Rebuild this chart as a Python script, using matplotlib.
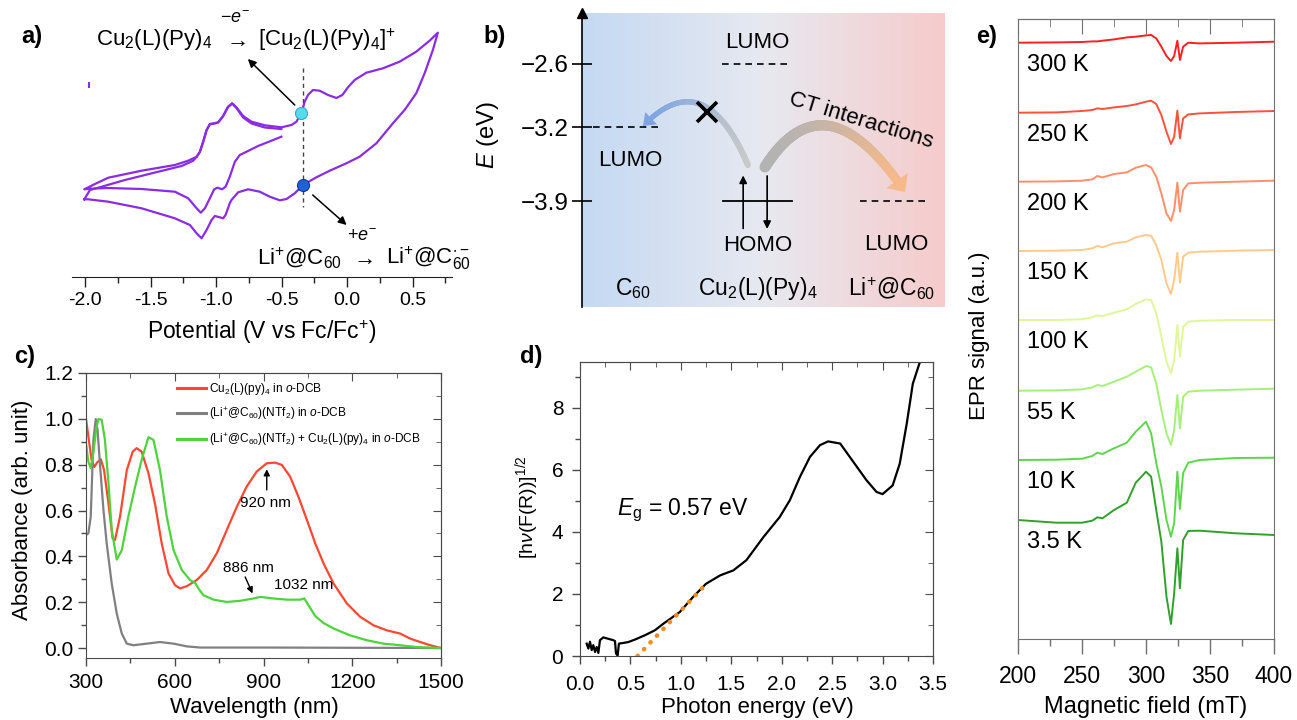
import numpy as np
import matplotlib
matplotlib.use("Agg")
import matplotlib.pyplot as plt
from matplotlib.collections import LineCollection
from matplotlib.patches import Polygon
from matplotlib.colors import LinearSegmentedColormap, to_rgb
from matplotlib.ticker import MultipleLocator, NullFormatter

plt.rcParams['font.family'] = ['Liberation Sans', 'DejaVu Sans']
plt.rcParams['mathtext.fontset'] = 'custom'
plt.rcParams['mathtext.rm'] = 'Liberation Sans'
plt.rcParams['mathtext.it'] = 'Liberation Sans:italic'
plt.rcParams['mathtext.bf'] = 'Liberation Sans:bold'
plt.rcParams['axes.unicode_minus'] = False

# ---------------- data ----------------
# a) cyclic voltammetry (potential V vs Fc/Fc+, current a.u.)
cv1_v = [-2.006, -1.963, -1.873, -1.696, -1.442, -1.264, -1.175, -1.149, -1.124, -1.099, -1.073, -1.048, -1.015,
         -0.985, -0.947, -0.909, -0.878, -0.845, -0.794, -0.730, -0.629, -0.502, -0.425, -0.387, -0.349, -0.324,
         -0.299, -0.261, -0.210, -0.146, -0.082, -0.037, 0.006, 0.057, 0.146, 0.273, 0.400, 0.527, 0.629, 0.692,
         0.654, 0.591, 0.527, 0.438, 0.349, 0.223, 0.095, -0.006, -0.133, -0.235, -0.337, -0.400, -0.463, -0.514,
         -0.591, -0.667, -0.756, -0.832, -0.883, -0.896, -0.928, -0.947, -0.972, -1.010, -1.035, -1.073, -1.111,
         -1.149, -1.200, -1.315, -1.569, -1.823, -1.976, -2.006]
cv1_i = [0.07, 1.0, 1.33, 2.0, 2.83, 3.4, 3.93, 4.33, 4.83, 5.83, 7.0, 7.6, 7.67, 7.77, 8.4, 9.33, 9.67, 9.27, 8.4,
         7.83, 7.47, 7.27, 7.5, 7.83, 8.73, 9.83, 10.5, 11.0, 10.93, 10.5, 10.2, 10.5, 11.27, 12.0, 12.73, 13.17,
         13.83, 14.83, 15.93, 16.73, 15.0, 12.67, 10.67, 9.0, 7.67, 5.67, 4.33, 3.67, 2.93, 2.27, 1.5, 0.67, 0.1,
         -0.03, 0.33, 0.83, 1.07, 0.77, 0.0, -0.33, -1.5, -1.83, -1.73, -1.6, -2.0, -3.0, -3.83, -3.33, -2.5, -1.83,
         -0.83, -0.17, 0.07, 0.07]
cv2_v = [-0.502, -0.578, -0.680, -0.768, -0.819, -0.857, -0.896, -0.928, -0.954, -0.989, -1.015, -1.048, -1.086,
         -1.117, -1.149, -1.213, -1.315, -1.569, -1.823, -1.963, -2.006, -1.925, -1.823, -1.569, -1.315, -1.213,
         -1.175, -1.149, -1.124, -1.099, -1.073, -1.048, -1.015, -0.985, -0.947, -0.909, -0.878, -0.845, -0.794,
         -0.730, -0.629, -0.502]
cv2_i = [6.33, 5.93, 5.4, 4.83, 4.5, 3.83, 2.33, 1.33, 1.07, 1.23, 1.07, 0.17, -0.83, -1.27, -0.83, 0.17, 0.83, 1.1,
         1.2, 1.13, 1.07, 1.6, 2.23, 2.93, 3.5, 3.93, 4.17, 4.3, 4.8, 5.8, 6.97, 7.57, 7.64, 7.74, 8.37, 9.3, 9.64,
         9.2, 8.25, 7.65, 7.25, 7.1]
cv_mark_v = -0.34          # dashed line / points of interest
cv_dot_ox = (-0.349, 8.73)
cv_dot_red = (-0.337, 1.5)

# b) energy levels (eV)
lumo_cu = -2.6
lumo_c60 = -3.2
homo_cu = -3.9
lumo_li = -3.9
b_ticks = [-2.6, -3.2, -3.9]

# c) UV-vis-NIR
red_wl = [300, 308, 319, 328, 338, 350, 361, 376, 390, 398, 415, 438, 458, 471, 488, 511, 533, 556, 579, 601, 618,
          641, 674, 708, 742, 776, 810, 843, 877, 911, 939, 962, 990, 1018, 1047, 1075, 1103, 1137, 1182, 1227,
          1272, 1317, 1362, 1396, 1430, 1464, 1500]
red_a = [1.0, 0.923, 0.82, 0.79, 0.81, 0.824, 0.777, 0.631, 0.478, 0.471, 0.573, 0.777, 0.857, 0.872, 0.857, 0.763,
         0.631, 0.456, 0.325, 0.274, 0.26, 0.27, 0.296, 0.34, 0.413, 0.515, 0.617, 0.704, 0.77, 0.806, 0.809, 0.799,
         0.748, 0.66, 0.558, 0.456, 0.369, 0.281, 0.194, 0.136, 0.099, 0.077, 0.063, 0.041, 0.026, 0.012, 0.0]
grey_wl = [300, 308, 316, 325, 333, 339, 347, 359, 370, 387, 404, 421, 438, 460, 505, 550, 596, 641, 686, 911, 1500]
grey_a = [0.493, 0.5, 0.573, 0.908, 0.999, 0.952, 0.806, 0.602, 0.456, 0.281, 0.15, 0.063, 0.019, 0.012, 0.019,
          0.026, 0.019, 0.007, 0.002, 0.002, 0.0]
green_wl = [300, 308, 316, 325, 334, 342, 353, 364, 376, 387, 404, 421, 443, 466, 488, 511, 528, 550, 573, 596, 624,
            652, 669, 680, 697, 731, 776, 821, 866, 889, 934, 979, 1024, 1038, 1052, 1075, 1103, 1137, 1193, 1249,
            1306, 1362, 1418, 1500]
green_a = [0.894, 0.814, 0.785, 0.85, 0.952, 0.999, 0.996, 0.908, 0.719, 0.515, 0.386, 0.427, 0.573, 0.704, 0.821,
           0.92, 0.908, 0.777, 0.573, 0.427, 0.34, 0.296, 0.284, 0.26, 0.23, 0.211, 0.201, 0.206, 0.216, 0.223,
           0.216, 0.211, 0.211, 0.216, 0.187, 0.139, 0.109, 0.085, 0.055, 0.034, 0.019, 0.012, 0.004, 0.0]
c_labels = [r"Cu$_2$(L)(py)$_4$ in $o$-DCB",
            r"(Li$^{+}$@C$_{60}$)(NTf$_2$) in $o$-DCB",
            r"(Li$^{+}$@C$_{60}$)(NTf$_2$) + Cu$_2$(L)(py)$_4$ in $o$-DCB"]

# d) Tauc plot
d_e = [0.066, 0.083, 0.099, 0.116, 0.132, 0.149, 0.165, 0.182, 0.198, 0.231, 0.264, 0.297, 0.33, 0.347, 0.357,
       0.373, 0.386, 0.429, 0.479, 0.545, 0.644, 0.743, 0.826, 0.99, 1.12, 1.25, 1.39, 1.52, 1.65, 1.82, 1.98,
       2.08, 2.18, 2.28, 2.38, 2.46, 2.58, 2.71, 2.84, 2.94, 3.0, 3.1, 3.17, 3.24, 3.3, 3.37]
d_y = [0.4, 0.24, 0.46, 0.19, 0.35, 0.13, 0.29, 0.1, 0.51, 0.6, 0.57, 0.54, 0.51, 0.48, 0.08, 0.02, 0.4, 0.42, 0.45,
       0.53, 0.67, 0.83, 1.04, 1.42, 1.9, 2.33, 2.6, 2.76, 3.09, 3.84, 4.48, 5.02, 5.77, 6.42, 6.8, 6.92, 6.85,
       6.26, 5.67, 5.29, 5.22, 5.5, 6.2, 7.5, 8.78, 9.48]
fit_e = [0.57, 1.26]
fit_y = [0.0, 2.35]

# e) EPR spectra (baseline-subtracted, a.u.) and their vertical offsets
epr_field = [200, 230, 250, 258, 262, 266, 275, 285, 292, 300, 304, 308, 312, 316, 319.5, 322, 324.5, 326.5, 329,
             333, 342, 370, 400]
epr_300 = [0, 0.03, 0.07, 0.13, 0.13, 0.2, 0.33, 0.53, 0.6, 0.73, 0.77, 0.43, -0.4, -1.33, -1.83, -1.33, 0.2,
           -1.73, -0.4, 0, -0.07, 0, 0.1]
epr_250 = [0, 0.03, 0.17, 0.27, 0.43, 0.37, 0.53, 0.67, 0.83, 1.1, 1.2, 0.87, -0.23, -1.9, -3.13, -2.4, 0.2, -2.57,
           -0.57, -0.17, -0.07, 0.07, 0.17]
epr_200 = [0, 0.03, 0.1, 0.23, 0.57, 0.43, 0.77, 0.93, 1.4, 1.67, 1.43, 0.5, -1.17, -3.17, -3.93, -2.83, -0.1, -3.0,
           -0.83, -0.17, -0.1, 0, 0.1]
epr_150 = [0, 0.03, 0.1, 0.27, 0.5, 0.37, 0.77, 0.93, 1.37, 1.6, 1.53, 0.6, -0.9, -3.23, -4.3, -2.9, -0.17, -3.17,
           -0.57, -0.17, -0.07, 0.03, 0.1]
epr_100 = [0, 0, 0.07, 0.27, 0.47, 0.4, 0.73, 1.07, 1.6, 2.07, 2.0, 0.67, -1.67, -4.17, -5.33, -4.0, -0.5, -3.67,
           -0.67, -0.17, -0.07, 0, 0]
epr_55 = [0, 0.03, 0.13, 0.33, 0.57, 0.47, 0.9, 1.4, 1.9, 2.47, 2.33, 0.73, -1.93, -4.27, -5.43, -3.93, -0.43, -3.77,
          -0.6, -0.1, 0, 0.1, 0.2]
epr_10 = [0, 0.03, 0.13, 0.4, 0.73, 0.6, 1.17, 1.73, 2.83, 3.83, 2.67, -0.3, -2.67, -6.0, -7.67, -6.3, -1.17, -4.9,
          -1.3, -0.27, 0, 0.2, 0.23]
epr_3p5 = [0, -0.27, -0.27, -0.07, 0.27, 0.17, 1.0, 1.73, 3.73, 4.83, 4.33, 1.0, -2.17, -7.67, -10.4, -7.33, -2.83,
           -6.83, -2.0, -1.1, -1.07, -1.33, -1.5]
epr_offsets = [59.63, 52.63, 45.73, 38.8, 31.9, 24.83, 17.9, 11.9]
epr_temps = ['300 K', '250 K', '200 K', '150 K', '100 K', '55 K', '10 K', '3.5 K']
epr_colors = ['#ff1f1f', '#ff503c', '#ff8f6a', '#ffca8c', '#def79a', '#a6ef7c', '#5ed64c', '#2fa12b']

# ---------------- layout helpers ----------------
W, H = 1297, 720


def rect(x0, y0, x1, y1):
    return [x0 / W, 1 - y1 / H, (x1 - x0) / W, (y1 - y0) / H]


def fxy(x, y):
    return x / W, 1 - y / H


def grad_arrow(ax, p0, p1, p2, c0, c1, w0, w1, head_w, head_l, sx, sy, gamma=1.0, n=120):
    P = np.array([p0, p1, p2], float) * [sx, sy]
    t = np.linspace(0, 1, n)[:, None]
    pts = (1 - t) ** 2 * P[0] + 2 * (1 - t) * t * P[1] + t ** 2 * P[2]
    seg = np.hypot(*np.diff(pts, axis=0).T)
    rem = np.concatenate([np.cumsum(seg[::-1])[::-1], [0]])
    k = int(np.argmax(rem <= head_l))
    body = pts[:k + 1]
    tip, base = pts[-1], pts[k]
    d = (tip - base) / np.hypot(*(tip - base))
    nrm = np.array([-d[1], d[0]])
    head = np.array([base + nrm * head_w / 2, tip, base - nrm * head_w / 2])
    f = np.linspace(0, 1, len(body) - 1)[:, None] ** gamma
    cols = np.array(to_rgb(c0)) * (1 - f) + np.array(to_rgb(c1)) * f
    segs = np.stack([body[:-1], body[1:]], axis=1) / [sx, sy]
    widths = (w0 + (w1 - w0) * np.linspace(0, 1, len(body) - 1)) * 0.72
    lc = LineCollection(segs, colors=cols, linewidths=widths, capstyle='round', zorder=3)
    ax.add_collection(lc)
    ax.add_patch(Polygon(head / [sx, sy], closed=True, color=c1, lw=0, zorder=3))


fig = plt.figure(figsize=(12.97, 7.2), dpi=100)

# ---------------- a) ----------------
purple = '#8a2be6'
ax = fig.add_axes(rect(72, 20, 452, 277))
ax.plot(cv1_v, cv1_i, color=purple, lw=1.6, solid_joinstyle='round')
ax.plot(cv2_v, cv2_i, color=purple, lw=1.6, solid_joinstyle='round')
ax.plot([-1.97], [11.5], marker='|', ms=4, color=purple, mew=1.5)
ax.plot([cv_mark_v, cv_mark_v], [13.2, -0.7], ls=(0, (3, 2.5)), color='#444444', lw=1.0)
ax.scatter(*cv_dot_ox, s=75, color='#55dcec', edgecolor='#2ab0c8', lw=0.8, zorder=5)
ax.scatter(*cv_dot_red, s=75, color='#1f62d6', edgecolor='#0b3c9a', lw=0.8, zorder=5)
ax.annotate('', xy=(-0.758, 14.1), xytext=(-0.40, 9.5),
            arrowprops=dict(arrowstyle='-|>', color='k', lw=1.1, mutation_scale=12, shrinkA=0, shrinkB=0))
ax.annotate('', xy=(-0.004, -2.5), xytext=(-0.263, 0.5),
            arrowprops=dict(arrowstyle='-|>', color='k', lw=1.1, mutation_scale=12, shrinkA=0, shrinkB=0))
ax.text(-1.917, 16.0, r"Cu$_2$(L)(Py)$_4$", fontsize=16, ha='left', va='center')
ax.text(-0.857, 15.9, r"$\rightarrow$", fontsize=16, ha='center', va='center')
ax.text(-0.857, 18.2, r"$-e^{-}$", fontsize=13, ha='center', va='center')
ax.text(-0.682, 16.0, r"[Cu$_2$(L)(Py)$_4$]$^{+}$", fontsize=16, ha='left', va='center')
ax.text(-0.690, -5.8, r"Li$^{+}$@C$_{60}$", fontsize=16, ha='left', va='center')
ax.text(0.11, -5.9, r"$\rightarrow$", fontsize=16, ha='center', va='center')
ax.text(0.11, -3.6, r"$+e^{-}$", fontsize=13, ha='center', va='center')
ax.text(0.30, -5.8, r"Li$^{+}$@C$_{60}^{\bullet-}$", fontsize=16, ha='left', va='center')
ax.set_xlim(-2.1, 0.8)
ax.set_ylim(-7.7, 18)
for s in ['top', 'left', 'right']:
    ax.spines[s].set_visible(False)
ax.spines['bottom'].set_color('#222222')
ax.set_yticks([])
a_ticks = [-2.0, -1.5, -1.0, -0.5, 0.0, 0.5]
ax.set_xticks(a_ticks, ['-2.0', '-1.5', '-1.0', '-0.5', '0.0', '0.5'])
ax.xaxis.set_minor_locator(MultipleLocator(0.25))
ax.tick_params(axis='x', which='major', direction='out', length=7, width=1, labelsize=14, pad=4, color='#222222')
ax.tick_params(axis='x', which='minor', direction='out', length=4, width=1, color='#222222')
ax.set_xlabel(r"Potential (V vs Fc/Fc$^{+}$)", fontsize=16.5)
ax.xaxis.set_label_coords(0.5, (277 - 332) / 257)
ax.xaxis.label.set_va('center')
fig.text(*fxy(32, 37), 'a)', fontsize=17, fontweight='bold', ha='center', va='center')

# ---------------- b) ----------------
Emax, Emin = -2.123, -4.896
axb = fig.add_axes(rect(582, 13, 945, 307))
bg = LinearSegmentedColormap.from_list('bg', ['#c4d9f3', '#e7e9f0', '#f6cbcb'])
axb.imshow(np.linspace(0, 1, 256)[None, :], cmap=bg, extent=(0, 10, Emin, Emax), aspect='auto', zorder=0)
axb.set_xlim(0, 10)
axb.set_ylim(Emin, Emax)
dash = dict(color='k', lw=1.2, ls=(0, (4, 3)))
axb.plot([0.30, 2.20], [lumo_c60, lumo_c60], **dash)
axb.plot([3.86, 5.67], [lumo_cu, lumo_cu], **dash)
axb.plot([7.66, 9.53], [lumo_li, lumo_li], **dash)
axb.plot([3.88, 5.79], [homo_cu, homo_cu], color='k', lw=1.3)
axb.annotate('', xy=(4.44, homo_cu + 0.245), xytext=(4.44, homo_cu - 0.255),
             arrowprops=dict(arrowstyle='-|>', color='k', lw=1.2, mutation_scale=11, shrinkA=0, shrinkB=0))
axb.annotate('', xy=(5.10, homo_cu - 0.26), xytext=(5.10, homo_cu + 0.24),
             arrowprops=dict(arrowstyle='-|>', color='k', lw=1.2, mutation_scale=11, shrinkA=0, shrinkB=0))
axb.text(4.82, lumo_cu + 0.2, 'LUMO', fontsize=16, ha='center', va='center')
axb.text(1.32, lumo_c60 - 0.31, 'LUMO', fontsize=16, ha='center', va='center')
axb.text(8.65, lumo_li - 0.41, 'LUMO', fontsize=16, ha='center', va='center')
axb.text(4.85, homo_cu - 0.42, 'HOMO', fontsize=16, ha='center', va='center')
axb.text(1.40, -4.72, r"C$_{60}$", fontsize=16.5, ha='center', va='center')
axb.text(4.85, -4.72, r"Cu$_2$(L)(Py)$_4$", fontsize=16.5, ha='center', va='center')
axb.text(8.54, -4.72, r"Li$^{+}$@C$_{60}$", fontsize=16.5, ha='center', va='center')
sx, sy = 36.3, 106.0
grad_arrow(axb, (4.57, -3.557), (3.37, -2.590), (1.68, -3.189), '#c9c9c9', '#7ea5e2', 6, 5, 17, 12, sx, sy,
           gamma=1.2)
grad_arrow(axb, (5.04, -3.576), (6.69, -2.684), (8.90, -3.812), '#b3b3b3', '#f6b98a', 11, 9, 26, 16, sx, sy,
           gamma=1.8)
axb.plot([3.44], [-3.057], marker='x', ms=15, mew=2.6, color='k', zorder=4)
axb.text(7.69, -3.134, 'CT interactions', fontsize=16, rotation=-17, ha='center', va='center', zorder=5)
for s in ['top', 'right', 'bottom']:
    axb.spines[s].set_visible(False)
axb.spines['left'].set_linewidth(1.2)
axb.plot(0, 1.0, marker='^', ms=7, color='k', transform=axb.transAxes, clip_on=False)
axb.set_xticks([])
axb.set_yticks(b_ticks, ['\u2212' + f"{abs(v):.1f}" for v in b_ticks])
axb.tick_params(axis='y', direction='inout', length=15, width=1.2, labelsize=17.5, pad=2)
axb.set_ylabel(r"$E$ (eV)", fontsize=17)
axb.yaxis.set_label_coords((488 - 582) / 363, 1 - (135 - 13) / 294)
axb.yaxis.label.set_va('center')
fig.text(*fxy(495, 37), 'b)', fontsize=17, fontweight='bold', ha='center', va='center')


def mirror(ax, xmaj, xmin, ymaj, ymin, color, lmaj, lmin):
    top = ax.secondary_xaxis('top')
    top.set_xticks(xmaj)
    top.set_xticks(xmin, minor=True)
    top.xaxis.set_major_formatter(NullFormatter())
    top.tick_params(which='major', direction='in', length=lmaj, color=color)
    top.tick_params(which='minor', direction='in', length=lmin, color=color)
    top.spines['top'].set_color(color)
    if ymaj is not None:
        right = ax.secondary_yaxis('right')
        right.set_yticks(ymaj)
        right.set_yticks(ymin, minor=True)
        right.yaxis.set_major_formatter(NullFormatter())
        right.tick_params(which='major', direction='in', length=lmaj, color=color)
        right.tick_params(which='minor', direction='in', length=lmin, color=color)
        right.spines['right'].set_color(color)


# ---------------- c) ----------------
sc = '#4a4a4a'
axc = fig.add_axes(rect(86, 373, 441, 658))
axc.plot(red_wl, red_a, color='#ff4630', lw=1.6, label=c_labels[0])
axc.plot(grey_wl, grey_a, color='#808080', lw=1.6, label=c_labels[1])
axc.plot(green_wl, green_a, color='#4cd43a', lw=1.6, label=c_labels[2])
axc.set_xlim(300, 1500)
axc.set_ylim(-0.0436, 1.2)
xmaj = [300, 600, 900, 1200, 1500]
xmin = [450, 750, 1050, 1350]
ymaj = [0.0, 0.2, 0.4, 0.6, 0.8, 1.0, 1.2]
ymin = [0.1, 0.3, 0.5, 0.7, 0.9, 1.1]
axc.set_xticks(xmaj)
axc.set_xticks(xmin, minor=True)
axc.set_yticks(ymaj, [f"{v:.1f}" for v in ymaj])
axc.set_yticks(ymin, minor=True)
axc.tick_params(which='major', direction='out', length=6, width=1, color=sc, labelsize=15)
axc.tick_params(which='minor', direction='out', length=3.5, width=1, color=sc)
axc.tick_params(axis='x', pad=5)
axc.tick_params(axis='y', pad=3)
for s in axc.spines.values():
    s.set_color(sc)
mirror(axc, xmaj, xmin, ymaj, ymin, sc, 6, 3.5)
axc.set_xlabel('Wavelength (nm)', fontsize=16)
axc.xaxis.set_label_coords((254 - 86) / 355, (658 - 707) / 285)
axc.xaxis.label.set_va('center')
axc.set_ylabel('Absorbance (arb. unit)', fontsize=16)
axc.yaxis.set_label_coords((23 - 86) / 355, 1 - (510 - 373) / 285)
axc.yaxis.label.set_va('center')
leg = axc.legend(loc='upper left', bbox_to_anchor=((177 - 86) / 355, 1 - (381 - 373) / 285), frameon=False,
                 fontsize=8.6, handlelength=2.4, handletextpad=0.3, labelspacing=0.72, borderaxespad=0,
                 borderpad=0)
for h in leg.get_lines():
    h.set_linewidth(2.2)
axc.annotate('', xy=(911, 0.78), xytext=(911, 0.69),
             arrowprops=dict(arrowstyle='-|>', color='k', lw=1.0, mutation_scale=9, shrinkA=0, shrinkB=0))
axc.text(905, 0.633, '920 nm', fontsize=11, ha='center', va='center')
axc.annotate('', xy=(863, 0.238), xytext=(838, 0.31),
             arrowprops=dict(arrowstyle='-|>', color='k', lw=1.0, mutation_scale=9, shrinkA=0, shrinkB=0))
axc.text(849, 0.349, '886 nm', fontsize=11, ha='center', va='center')
axc.text(1035, 0.277, '1032 nm', fontsize=11, ha='center', va='center')
fig.text(*fxy(25, 356), 'c)', fontsize=17, fontweight='bold', ha='center', va='center')

# ---------------- d) ----------------
axd = fig.add_axes(rect(580, 362, 933, 656))
axd.plot(d_e, d_y, color='k', lw=1.6)
axd.plot(fit_e, fit_y, color='#ff8a1c', lw=3.2, ls=(0, (0.1, 2.0)), dash_capstyle='round', zorder=3)
axd.set_xlim(0, 3.5)
axd.set_ylim(0, 9.48)
dxmaj = [0.0, 0.5, 1.0, 1.5, 2.0, 2.5, 3.0, 3.5]
dxmin = [0.25, 0.75, 1.25, 1.75, 2.25, 2.75, 3.25]
dymaj = [0, 2, 4, 6, 8]
dymin = [1, 3, 5, 7, 9]
axd.set_xticks(dxmaj, [f"{v:.1f}" for v in dxmaj])
axd.set_xticks(dxmin, minor=True)
axd.set_yticks(dymaj)
axd.set_yticks(dymin, minor=True)
axd.tick_params(which='major', direction='out', length=6, width=1, color=sc, labelsize=15)
axd.tick_params(which='minor', direction='out', length=3.5, width=1, color=sc)
axd.tick_params(axis='x', pad=8)
axd.tick_params(axis='y', pad=6)
for s in axd.spines.values():
    s.set_color(sc)
mirror(axd, dxmaj, dxmin, dymaj, dymin, sc, 6, 3.5)
axd.text(0.367, 4.71, r"$E_{\rm g}$ = 0.57 eV", fontsize=16.5, ha='left', va='center')
axd.set_xlabel('Photon energy (eV)', fontsize=16)
axd.xaxis.set_label_coords((757 - 580) / 353, (656 - 708) / 294)
axd.xaxis.label.set_va('center')
axd.set_ylabel(r"[h$\nu$(F(R))]$^{1/2}$", fontsize=14)
axd.yaxis.set_label_coords((527 - 580) / 353, 1 - (507 - 362) / 294)
axd.yaxis.label.set_va('center')
fig.text(*fxy(531, 357), 'd)', fontsize=17, fontweight='bold', ha='center', va='center')

# ---------------- e) ----------------
se = '#707070'
axe = fig.add_axes(rect(1018, 19, 1274, 639))
for rel, off, col, lab in zip([epr_300, epr_250, epr_200, epr_150, epr_100, epr_55, epr_10, epr_3p5],
                              epr_offsets, epr_colors, epr_temps):
    axe.plot(epr_field, np.array(rel) + off, color=col, lw=1.4)
    axe.text(207, off - 2.2, lab, fontsize=17, ha='left', va='center')
axe.set_xlim(200, 400)
axe.set_ylim(0, 62)
exmaj = [200, 250, 300, 350, 400]
exmin = [225, 275, 325, 375]
axe.set_xticks(exmaj)
axe.set_xticks(exmin, minor=True)
axe.set_yticks([])
axe.tick_params(axis='x', which='major', direction='out', length=11, width=1, color=se, labelsize=16.5, pad=8)
axe.tick_params(axis='x', which='minor', direction='out', length=5, width=1, color=se)
for s in axe.spines.values():
    s.set_color(se)
mirror(axe, exmaj, exmin, None, None, se, 11, 5.5)
axe.set_xlabel('Magnetic field (mT)', fontsize=17)
axe.xaxis.set_label_coords((1146 - 1018) / 256, (639 - 707) / 620)
axe.xaxis.label.set_va('center')
axe.set_ylabel('EPR signal (a.u.)', fontsize=16)
axe.yaxis.set_label_coords((979 - 1018) / 256, 1 - (336 - 19) / 620)
axe.yaxis.label.set_va('center')
fig.text(*fxy(987, 37), 'e)', fontsize=17, fontweight='bold', ha='center', va='center')

fig.savefig('out.png', dpi=100)
